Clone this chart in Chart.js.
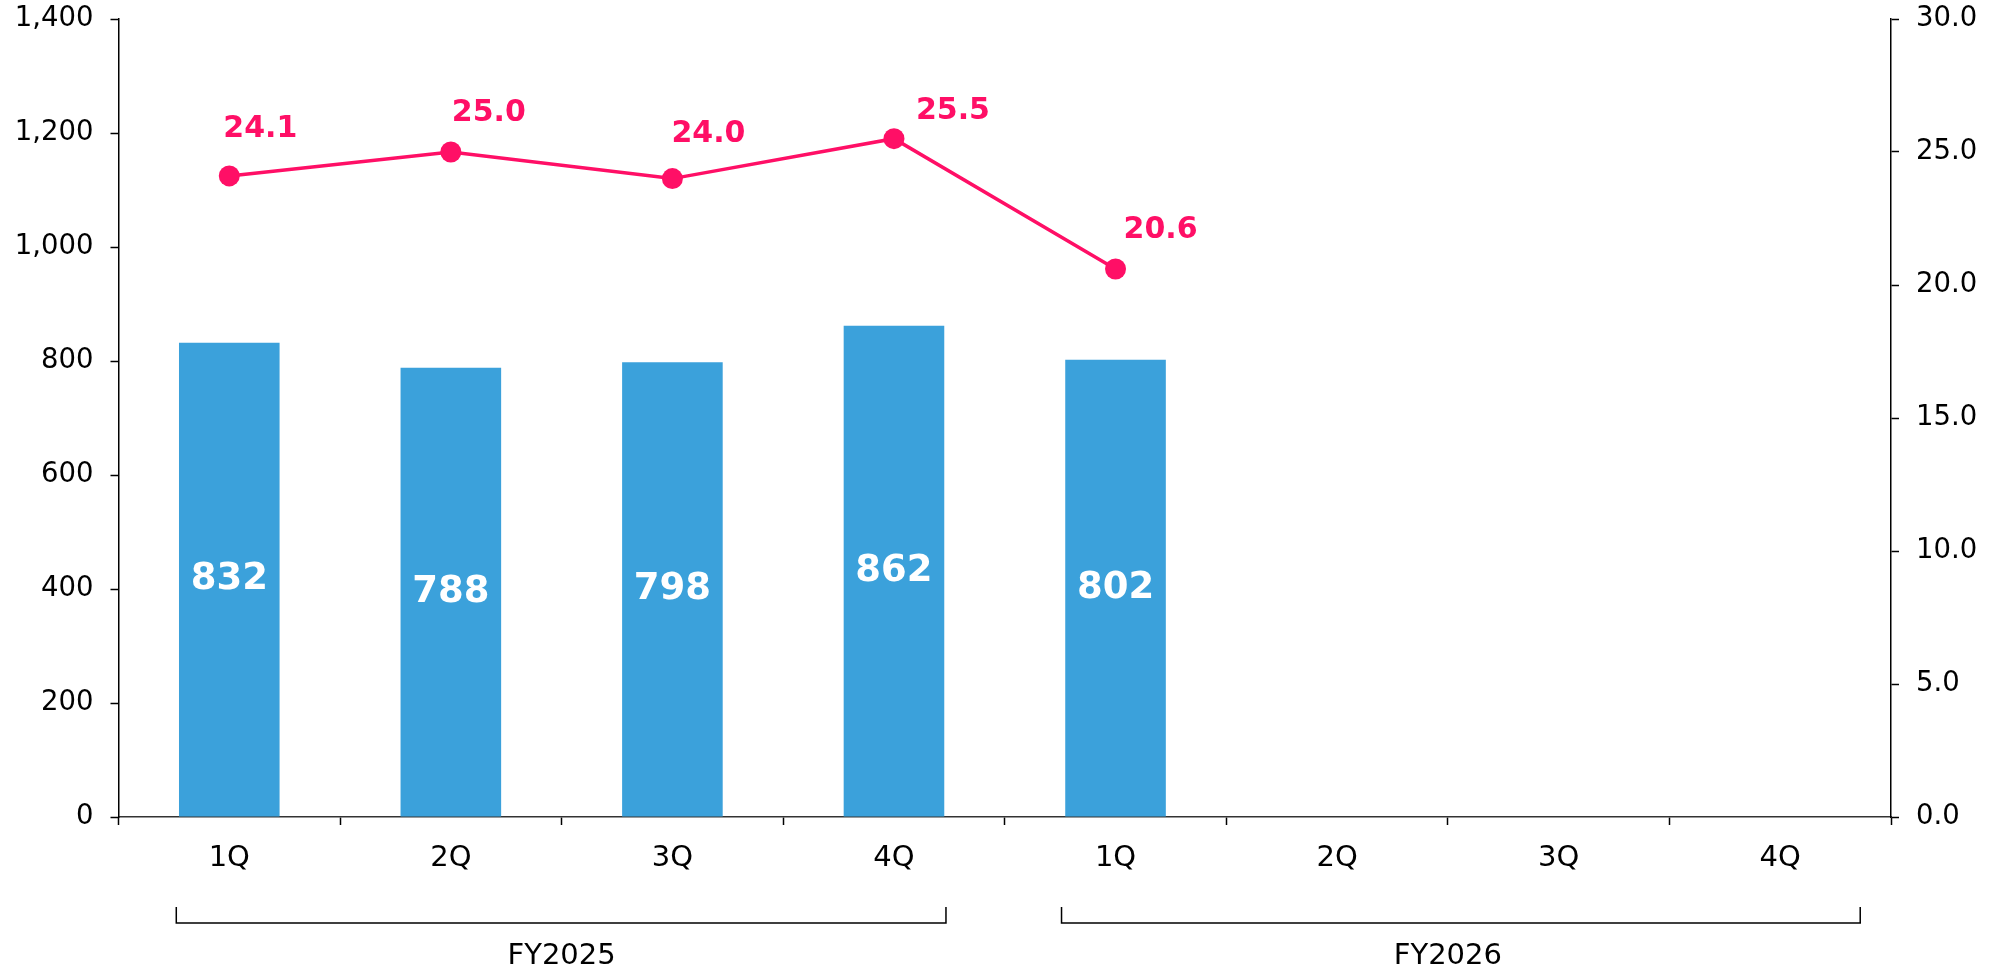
<!DOCTYPE html>
<html>
<head>
<meta charset="utf-8">
<script src="https://cdn.jsdelivr.net/npm/chart.js@4"></script>
<style>
  body { margin: 0; background: #fff; }
  #wrap { width: 1998px; height: 973px; }
</style>
</head>
<body>
<div id="wrap"><canvas id="chart"></canvas></div>
<script>
// Data
const quarters = ["1Q", "2Q", "3Q", "4Q", "1Q", "2Q", "3Q", "4Q"];
const fiscalYears = ["FY2025", "FY2026"];
const barValues = [832, 788, 798, 862, 802, null, null, null];
const lineValues = [24.1, 25.0, 24.0, 25.5, 20.6, null, null, null];
const leftTicks = [0, 200, 400, 600, 800, 1000, 1200, 1400];
const rightTicks = [0, 5, 10, 15, 20, 25, 30];

const FONT = "'DejaVu Sans', Verdana, sans-serif";
const BAR_COLOR = "#3BA1DB";
const LINE_COLOR = "#FF0F66";

// Draws value labels on bars and line points
const valueLabels = {
  id: "valueLabels",
  afterDatasetsDraw(chart, args, opts) {
    const ctx = chart.ctx;
    ctx.save();
    ctx.textAlign = "center";
    ctx.textBaseline = "middle";

    // bar labels, centered in the bar
    const barMeta = chart.getDatasetMeta(0);
    ctx.font = "bold 37px " + FONT;
    ctx.fillStyle = "#ffffff";
    barMeta.data.forEach((bar, i) => {
      if (barValues[i] == null) return;
      ctx.fillText(String(barValues[i]), bar.x, (bar.y + bar.base) / 2);
    });

    // line labels, above-right of each point
    const lineMeta = chart.getDatasetMeta(1);
    ctx.font = "bold 30px " + FONT;
    ctx.fillStyle = LINE_COLOR;
    lineMeta.data.forEach((pt, i) => {
      if (lineValues[i] == null) return;
      const off = opts.lineOffsets[i] || [35, -40];
      ctx.fillText(lineValues[i].toFixed(1), pt.x + off[0], pt.y + off[1]);
    });
    ctx.restore();
  }
};

// Draws the fiscal year brackets under the quarter labels
const yearBrackets = {
  id: "yearBrackets",
  afterDraw(chart, args, opts) {
    const ctx = chart.ctx;
    const x = chart.scales.x;
    ctx.save();
    ctx.strokeStyle = "#000";
    ctx.lineWidth = 1.5;
    ctx.fillStyle = "#000";
    ctx.font = "29px " + FONT;
    ctx.textAlign = "center";
    ctx.textBaseline = "middle";
    fiscalYears.forEach((fy, k) => {
      const first = k * 4, last = k * 4 + 3;
      const x1 = x.getPixelForValue(first) + opts.ends[k][0];
      const x2 = x.getPixelForValue(last) + opts.ends[k][1];
      ctx.beginPath();
      ctx.moveTo(x1, opts.top);
      ctx.lineTo(x1, opts.bottom);
      ctx.lineTo(x2, opts.bottom);
      ctx.lineTo(x2, opts.top);
      ctx.stroke();
      const mid = (x.getPixelForValue(first) + x.getPixelForValue(last)) / 2;
      ctx.fillText(fy, mid, opts.labelY);
    });
    ctx.restore();
  }
};

new Chart(document.getElementById("chart"), {
  data: {
    labels: quarters,
    datasets: [
      {
        type: "bar",
        data: barValues,
        backgroundColor: BAR_COLOR,
        barPercentage: 0.454,
        categoryPercentage: 1.0,
        yAxisID: "y",
        order: 2
      },
      {
        type: "line",
        data: lineValues,
        borderColor: LINE_COLOR,
        backgroundColor: LINE_COLOR,
        borderWidth: 3.5,
        pointRadius: 10.5,
        pointHoverRadius: 10.5,
        pointBackgroundColor: LINE_COLOR,
        pointBorderWidth: 0,
        tension: 0,
        spanGaps: false,
        yAxisID: "y1",
        order: 1
      }
    ]
  },
  options: {
    responsive: true,
    maintainAspectRatio: false,
    animation: false,
    layout: { padding: { top: 19, left: 0, right: 0, bottom: 0 } },
    plugins: {
      legend: { display: false },
      tooltip: { enabled: false },
      valueLabels: {
        lineOffsets: [[31, -47], [38, -39], [36, -44], [59, -27], [45, -39]]
      },
      yearBrackets: {
        ends: [[-53, 52], [-54, 80]],
        top: 907,
        bottom: 923,
        labelY: 956
      }
    },
    scales: {
      x: {
        offset: true,
        grid: {
          offset: true,
          drawOnChartArea: false,
          drawTicks: true,
          tickLength: 8,
          tickColor: "#000",
          tickWidth: 1.5
        },
        border: { display: true, color: "#333", width: 1.5 },
        ticks: {
          color: "#000",
          font: { family: FONT, size: 29 },
          padding: 16,
          maxRotation: 0,
          autoSkip: false
        },
        afterFit(scale) { scale.height = 156; }
      },
      y: {
        position: "left",
        min: 0,
        max: 1400,
        afterBuildTicks(scale) { scale.ticks = leftTicks.map(v => ({ value: v })); },
        grid: {
          drawOnChartArea: false,
          drawTicks: true,
          tickLength: 8,
          tickColor: "#000",
          tickWidth: 1.5
        },
        border: { display: true, color: "#000", width: 1.5 },
        ticks: {
          color: "#000",
          font: { family: FONT, size: 27.5 },
          padding: 17,
          callback: v => v.toLocaleString("en-US")
        },
        afterFit(scale) {
          scale.width = 118.5;
          scale.paddingTop = 0;
          scale.paddingBottom = 0;
        }
      },
      y1: {
        position: "right",
        min: 0,
        max: 30,
        afterBuildTicks(scale) { scale.ticks = rightTicks.map(v => ({ value: v })); },
        grid: {
          drawOnChartArea: false,
          drawTicks: true,
          tickLength: 8,
          tickColor: "#000",
          tickWidth: 1.5
        },
        border: { display: true, color: "#000", width: 1.5 },
        ticks: {
          color: "#000",
          font: { family: FONT, size: 27.5 },
          padding: 17,
          callback: v => Number(v).toFixed(1)
        },
        afterFit(scale) {
          scale.width = 107;
          scale.paddingTop = 0;
          scale.paddingBottom = 0;
        }
      }
    }
  },
  plugins: [valueLabels, yearBrackets]
});
</script>
</body>
</html>
